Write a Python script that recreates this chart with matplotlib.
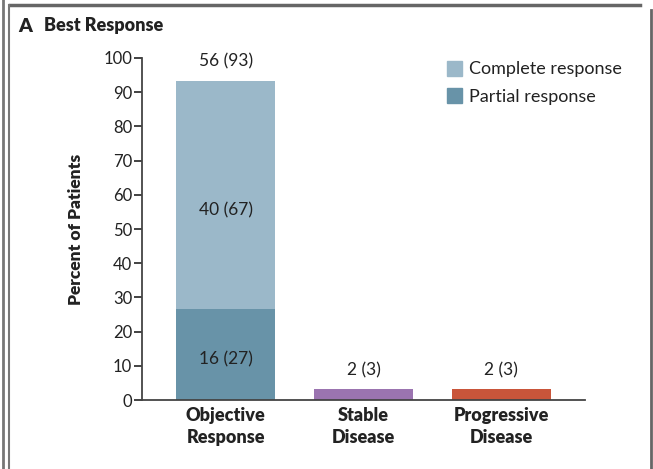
import matplotlib.pyplot as plt
from matplotlib.patches import Patch
from matplotlib.lines import Line2D

categories = ["Objective\nResponse", "Stable\nDisease", "Progressive\nDisease"]
partial_pct = [26.7, 0, 0]
complete_pct = [66.7, 0, 0]
other_pct = [0, 3.3, 3.3]
top_labels = ["56 (93)", "2 (3)", "2 (3)"]
seg_labels = ["16 (27)", "40 (67)"]
yticks = list(range(0, 101, 10))

c_complete = "#9bb8c9"
c_partial = "#6893a8"
c_other = ["#ffffff", "#9b74b0", "#c9553a"]
txt = "#222222"

plt.rcParams['font.family'] = ['Lato', 'DejaVu Sans']

fig = plt.figure(figsize=(6.53, 4.69), dpi=100)
ax = fig.add_axes([142 / 653, (469 - 400) / 469, (585 - 142) / 653, (400 - 58) / 469])

x = list(range(len(categories)))
w = 0.72
ax.bar(x, partial_pct, width=w, color=c_partial)
ax.bar(x, complete_pct, bottom=partial_pct, width=w, color=c_complete)
ax.bar(x[1:], other_pct[1:], width=w, color=c_other[1:])

totals = [p + c + o for p, c, o in zip(partial_pct, complete_pct, other_pct)]
for xi, t, lab in zip(x, totals, top_labels):
    ax.text(xi, t + 5.5, lab, ha="center", va="center", fontsize=12.5, color=txt)
ax.text(0, partial_pct[0] / 2 - 1.6, seg_labels[0], ha="center", va="center", fontsize=12.5, color=txt)
ax.text(0, partial_pct[0] + complete_pct[0] / 2 - 4.6, seg_labels[1], ha="center", va="center", fontsize=12.5, color=txt)

ax.set_xlim(-0.607, 2.607)
ax.set_ylim(0, 100)
ax.set_yticks(yticks)
ax.tick_params(axis="y", length=6, width=1.2, labelsize=12, pad=1, colors=txt)
ax.set_xticks(x)
ax.set_xticklabels(categories, fontweight="heavy", fontsize=13, linespacing=1.35)
ax.tick_params(axis="x", length=0, pad=5, colors=txt)
for s in ["top", "right"]:
    ax.spines[s].set_visible(False)
for s in ["left", "bottom"]:
    ax.spines[s].set_color("#444444")
    ax.spines[s].set_linewidth(1.3)
ax.set_ylabel("Percent of Patients", fontweight="heavy", fontsize=12.5, labelpad=14, color=txt)

handles = [Patch(color=c_complete), Patch(color=c_partial)]
ax.legend(handles, ["Complete response", "Partial response"], loc="upper left",
          bbox_to_anchor=(0.652, 1.04), frameon=False, fontsize=13, handlelength=0.8,
          handleheight=0.9, handletextpad=0.4, labelspacing=0.6, labelcolor=txt)

fig.text(18 / 653, 1 - 26 / 469, "A", fontsize=14, fontweight="heavy", va="center", color=txt)
fig.text(44 / 653, 1 - 26 / 469, "Best Response", fontsize=13, fontweight="heavy", va="center", color=txt)

# page frame remnants
fig.add_artist(Line2D([10 / 653, 640 / 653], [1 - 5 / 469, 1 - 5 / 469], color="#666666", lw=2.5))
fig.add_artist(Line2D([651 / 653, 651 / 653], [0, 1 - 10 / 469], color="#666666", lw=2))
fig.add_artist(Line2D([2.5 / 653, 2.5 / 653], [0, 1], color="#777777", lw=2))
fig.add_artist(Line2D([9 / 653, 9 / 653], [0, 1 - 5 / 469], color="#777777", lw=1.5))

fig.savefig("out.png", dpi=100)
